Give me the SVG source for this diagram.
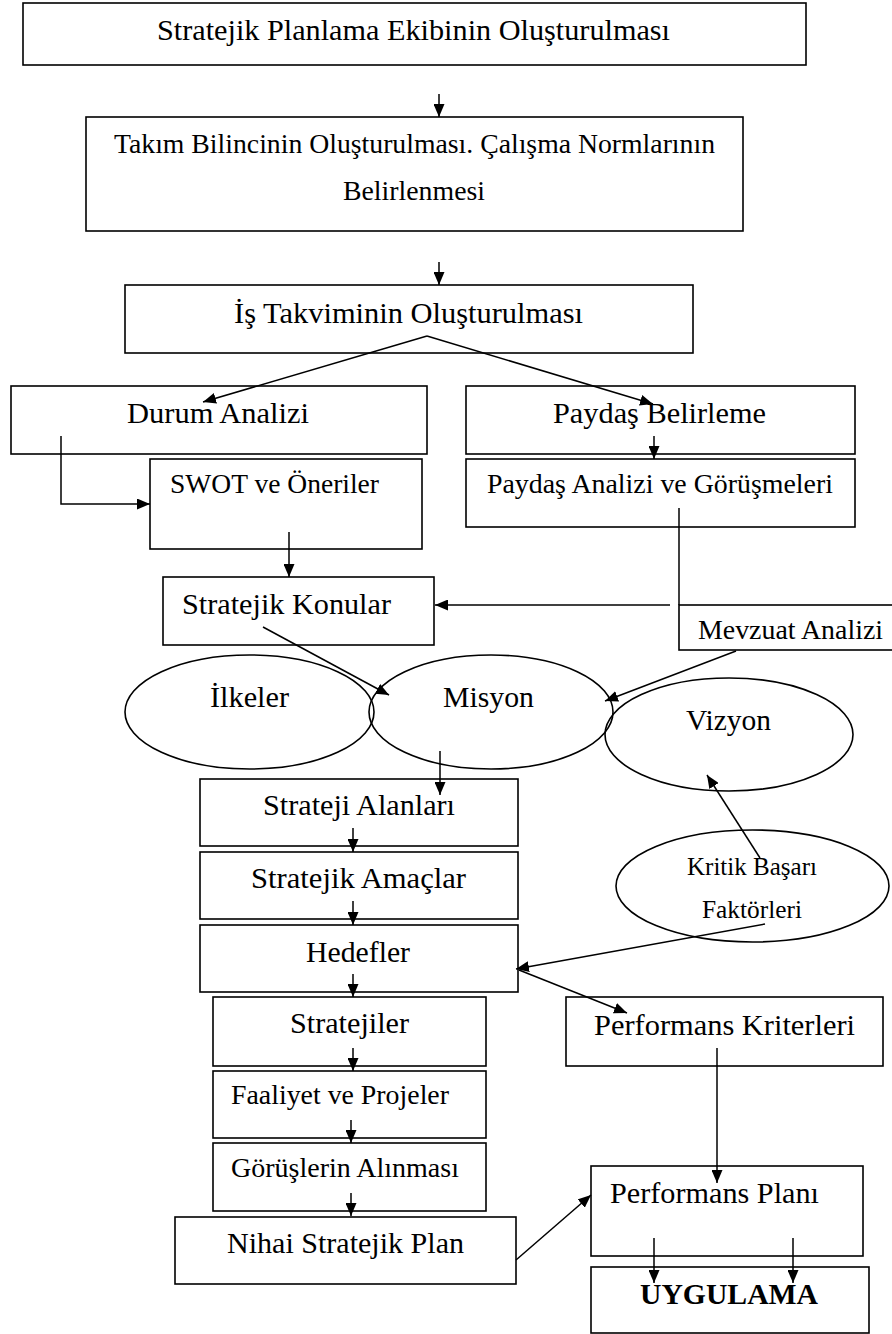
<svg xmlns="http://www.w3.org/2000/svg" width="892" height="1334" viewBox="0 0 892 1334">
<defs>
<marker id="ah" markerUnits="userSpaceOnUse" markerWidth="13" markerHeight="11" refX="13" refY="5.5" orient="auto">
<path d="M0,0 L13,5.5 L0,11 Z" fill="#000"/>
</marker>
<style>
.b{fill:none;stroke:#000;stroke-width:1.6}
.c{fill:none;stroke:#000;stroke-width:1.5}
.a{marker-end:url(#ah)}
text{font-family:"Liberation Serif","Times New Roman",serif;fill:#000}
</style>
</defs>
<rect width="892" height="1334" fill="#fff"/>
<g id="n1"><rect class="b" x="23" y="3" width="783" height="62"/><text x="157" y="40" font-size="30" textLength="513" lengthAdjust="spacingAndGlyphs">Stratejik Planlama Ekibinin Oluşturulması</text></g>
<g id="n2"><rect class="b" x="86" y="117" width="657" height="114"/><text x="114" y="153" font-size="28" textLength="601" lengthAdjust="spacingAndGlyphs">Takım Bilincinin Oluşturulması. Çalışma Normlarının</text><text x="343" y="200" font-size="28" textLength="142" lengthAdjust="spacingAndGlyphs">Belirlenmesi</text></g>
<g id="n3"><rect class="b" x="125" y="285" width="568" height="68"/><text x="234" y="323" font-size="30" textLength="349" lengthAdjust="spacingAndGlyphs">İş Takviminin Oluşturulması</text></g>
<g id="n4"><rect class="b" x="11" y="386" width="416" height="68"/><text x="127" y="423" font-size="30" textLength="182" lengthAdjust="spacingAndGlyphs">Durum Analizi</text></g>
<g id="n5"><rect class="b" x="466" y="386" width="389" height="68"/><text x="553" y="423" font-size="30" textLength="213" lengthAdjust="spacingAndGlyphs">Paydaş Belirleme</text></g>
<g id="n6"><rect class="b" x="150" y="459" width="272" height="90"/><text x="170" y="493" font-size="27.5" textLength="209" lengthAdjust="spacingAndGlyphs">SWOT ve Öneriler</text></g>
<g id="n7"><rect class="b" x="466" y="459" width="389" height="68"/><text x="487" y="493" font-size="27.5" textLength="346" lengthAdjust="spacingAndGlyphs">Paydaş Analizi ve Görüşmeleri</text></g>
<g id="n8"><rect class="b" x="163" y="577" width="271" height="68"/><text x="182" y="614" font-size="29" textLength="209" lengthAdjust="spacingAndGlyphs">Stratejik Konular</text></g>
<g id="n9"><rect class="b" x="679" y="605" width="225" height="45"/><text x="698" y="639" font-size="28" textLength="185" lengthAdjust="spacingAndGlyphs">Mevzuat Analizi</text></g>
<g id="n10"><ellipse class="b" cx="249.5" cy="712" rx="124.5" ry="57"/><text x="210" y="707" font-size="30" textLength="79" lengthAdjust="spacingAndGlyphs">İlkeler</text></g>
<g id="n11"><ellipse class="b" cx="491" cy="712" rx="122" ry="57"/><text x="443" y="707" font-size="30" textLength="91" lengthAdjust="spacingAndGlyphs">Misyon</text></g>
<g id="n12"><ellipse class="b" cx="729" cy="734.5" rx="124" ry="56.5"/><text x="686" y="730" font-size="30" textLength="85" lengthAdjust="spacingAndGlyphs">Vizyon</text></g>
<g id="n13"><rect class="b" x="200" y="779" width="318" height="67"/><text x="263" y="815" font-size="29" textLength="192" lengthAdjust="spacingAndGlyphs">Strateji Alanları</text></g>
<g id="n14"><ellipse class="b" cx="752.5" cy="886" rx="136.5" ry="56"/><text x="687" y="875" font-size="25" textLength="130" lengthAdjust="spacingAndGlyphs">Kritik Başarı</text><text x="702" y="918" font-size="25" textLength="100" lengthAdjust="spacingAndGlyphs">Faktörleri</text></g>
<g id="n15"><rect class="b" x="200" y="852" width="318" height="67"/><text x="251" y="888" font-size="29" textLength="215" lengthAdjust="spacingAndGlyphs">Stratejik Amaçlar</text></g>
<g id="n16"><rect class="b" x="200" y="925" width="318" height="67"/><text x="306" y="962" font-size="30" textLength="104" lengthAdjust="spacingAndGlyphs">Hedefler</text></g>
<g id="n17"><rect class="b" x="213" y="997" width="273" height="69"/><text x="290" y="1033" font-size="30" textLength="119" lengthAdjust="spacingAndGlyphs">Stratejiler</text></g>
<g id="n18"><rect class="b" x="566" y="997" width="317" height="69"/><text x="594" y="1035" font-size="29" textLength="261" lengthAdjust="spacingAndGlyphs">Performans Kriterleri</text></g>
<g id="n19"><rect class="b" x="213" y="1071" width="273" height="67"/><text x="231" y="1104" font-size="27.5" textLength="218" lengthAdjust="spacingAndGlyphs">Faaliyet ve Projeler</text></g>
<g id="n20"><rect class="b" x="213" y="1143" width="273" height="68"/><text x="231" y="1177" font-size="27.5" textLength="228" lengthAdjust="spacingAndGlyphs">Görüşlerin Alınması</text></g>
<g id="n21"><rect class="b" x="175" y="1217" width="341" height="67"/><text x="227" y="1253" font-size="29" textLength="237" lengthAdjust="spacingAndGlyphs">Nihai Stratejik Plan</text></g>
<g id="n22"><rect class="b" x="591" y="1166" width="272" height="90"/><text x="610" y="1203" font-size="29" textLength="209" lengthAdjust="spacingAndGlyphs">Performans Planı</text></g>
<g id="n23"><rect class="b" x="591" y="1267" width="278" height="66"/><text x="640" y="1304" font-size="29" font-weight="bold" textLength="178" lengthAdjust="spacingAndGlyphs">UYGULAMA</text></g>
<g id="connectors">
<line class="c a" x1="439" y1="94" x2="439" y2="117"/>
<line class="c a" x1="439" y1="262" x2="439" y2="285"/>
<line class="c a" x1="427" y1="336" x2="203" y2="402"/>
<line class="c a" x1="427" y1="336" x2="653" y2="404"/>
<line class="c a" x1="654" y1="436" x2="654" y2="459"/>
<polyline class="c a" points="61,436 61,504 150,504"/>
<line class="c a" x1="289" y1="532" x2="289" y2="577"/>
<line class="c" x1="679" y1="508" x2="679" y2="605"/>
<line class="c a" x1="670" y1="605" x2="435" y2="605"/>
<line class="c a" x1="263" y1="627" x2="389" y2="695"/>
<line class="c a" x1="736" y1="651" x2="605" y2="701"/>
<line class="c a" x1="440" y1="751" x2="440" y2="795"/>
<line class="c a" x1="760" y1="858" x2="707" y2="775"/>
<line class="c a" x1="353" y1="828" x2="353" y2="852"/>
<line class="c a" x1="353" y1="901" x2="353" y2="925"/>
<line class="c a" x1="765" y1="924" x2="516" y2="969"/>
<line class="c a" x1="519" y1="970" x2="627" y2="1013"/>
<line class="c a" x1="353" y1="974" x2="353" y2="997"/>
<line class="c a" x1="353" y1="1048" x2="353" y2="1071"/>
<line class="c a" x1="717" y1="1048" x2="717" y2="1183"/>
<line class="c a" x1="351" y1="1120" x2="351" y2="1143"/>
<line class="c a" x1="351" y1="1193" x2="351" y2="1216"/>
<line class="c a" x1="516" y1="1260" x2="591" y2="1195"/>
<line class="c a" x1="654" y1="1238" x2="654" y2="1283"/>
<line class="c a" x1="793" y1="1238" x2="793" y2="1283"/>
</g>
</svg>
